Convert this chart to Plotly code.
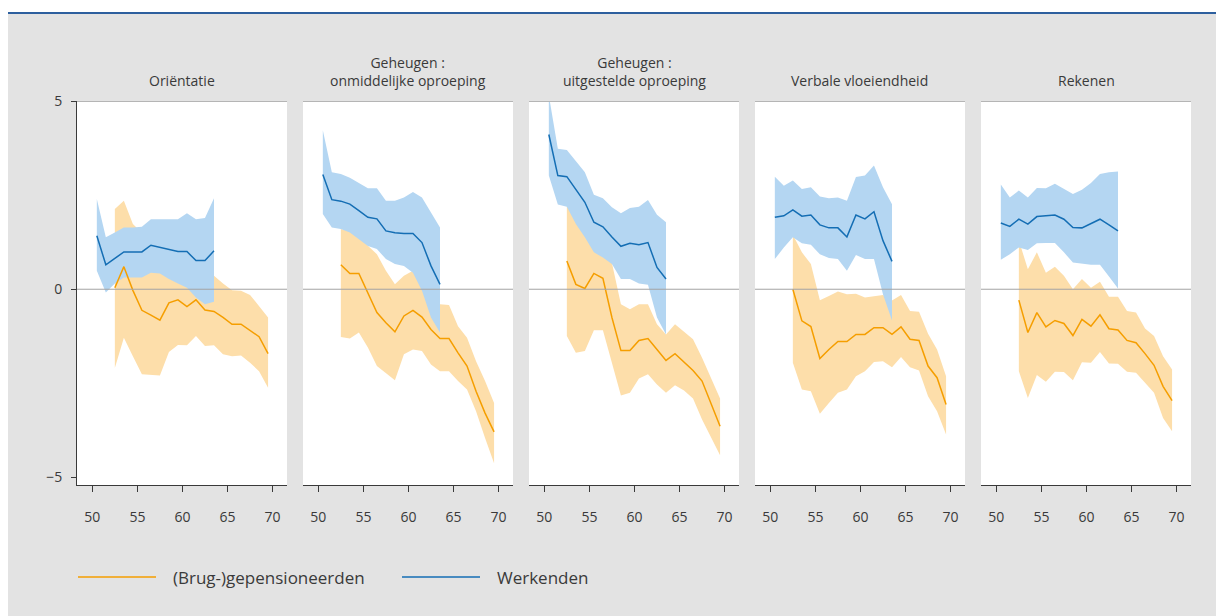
import plotly.graph_objects as go
from plotly.subplots import make_subplots

AGES_WORK = [50.5, 51.5, 52.5, 53.5, 54.5, 55.5, 56.5, 57.5, 58.5, 59.5, 60.5, 61.5, 62.5, 63.5]
AGES_RET = [52.5, 53.5, 54.5, 55.5, 56.5, 57.5, 58.5, 59.5, 60.5, 61.5, 62.5, 63.5, 64.5,
            65.5, 66.5, 67.5, 68.5, 69.5]

TITLES = ["Oriëntatie", "Geheugen :<br>onmiddelijke oproeping", "Geheugen :<br>uitgestelde oproeping",
          "Verbale vloeiendheid", "Rekenen"]
X_TICKS = [50, 55, 60, 65, 70]
Y_TICKS = [-5, 0, 5]
Y_TICKTEXT = ["\u22125", "0", "5"]
LEGEND_NAMES = ["(Brug-)gepensioneerden", "Werkenden"]

# Oriëntatie
ORI_WORK = [1.42, 0.65, 0.82, 0.99, 0.99, 0.99, 1.17, 1.12, 1.06, 1.00, 1.00, 0.76, 0.76, 1.02]
ORI_WORK_HI = [2.40, 1.38, 1.51, 1.64, 1.64, 1.66, 1.86, 1.86, 1.86, 1.86, 2.02, 1.86, 1.89, 2.42]
ORI_WORK_LO = [0.49, -0.09, 0.15, 0.31, 0.31, 0.31, 0.44, 0.42, 0.27, 0.15, 0.04, -0.22, -0.40, -0.33]
ORI_RET = [0.04, 0.60, -0.03, -0.56, -0.69, -0.82, -0.36, -0.28, -0.46, -0.28, -0.55, -0.59, -0.75,
           -0.93, -0.93, -1.09, -1.26, -1.71]
ORI_RET_HI = [2.13, 2.35, 1.73, 1.50, 1.30, 1.20, 1.10, 1.00, 0.90, 0.70, 0.50, 0.36, 0.15,
              -0.03, -0.04, -0.15, -0.44, -0.75]
ORI_RET_LO = [-2.09, -1.29, -1.78, -2.26, -2.28, -2.29, -1.67, -1.48, -1.49, -1.24, -1.51, -1.49, -1.73,
              -1.78, -1.76, -1.95, -2.18, -2.62]

# Geheugen: onmiddelijke oproeping
ONM_WORK = [3.05, 2.38, 2.34, 2.26, 2.09, 1.91, 1.87, 1.55, 1.50, 1.48, 1.48, 1.24, 0.62, 0.13]
ONM_WORK_HI = [4.22, 3.11, 3.06, 2.96, 2.82, 2.68, 2.68, 2.35, 2.35, 2.44, 2.58, 2.44, 2.04, 1.64]
ONM_WORK_LO = [2.00, 1.64, 1.60, 1.51, 1.33, 1.15, 1.07, 0.80, 0.67, 0.62, 0.44, -0.04, -0.75, -1.15]
ONM_RET = [0.65, 0.42, 0.42, -0.09, -0.62, -0.89, -1.13, -0.71, -0.56, -0.74, -1.07, -1.31, -1.31,
           -1.69, -2.04, -2.71, -3.29, -3.79]
ONM_RET_HI = [1.60, 1.55, 1.38, 1.15, 0.93, 0.49, 0.13, 0.36, 0.49, 0.04, -0.20, -0.40, -0.42,
              -0.98, -1.29, -1.91, -2.44, -3.02]
ONM_RET_LO = [-1.27, -1.31, -1.15, -1.55, -2.04, -2.22, -2.42, -1.73, -1.60, -1.64, -2.00, -2.18, -2.18,
              -2.44, -2.66, -3.24, -3.95, -4.62]

# Geheugen: uitgestelde oproeping
UIT_WORK = [4.11, 3.02, 2.99, 2.66, 2.31, 1.78, 1.66, 1.39, 1.14, 1.22, 1.18, 1.24, 0.58, 0.27]
UIT_WORK_HI = [5.15, 3.73, 3.70, 3.42, 3.11, 2.51, 2.42, 2.18, 2.02, 2.16, 2.19, 2.37, 1.98, 1.78]
UIT_WORK_LO = [3.02, 2.25, 2.19, 1.73, 1.38, 0.98, 0.84, 0.67, 0.27, 0.27, 0.15, 0.12, -0.75, -1.20]
UIT_RET = [0.75, 0.13, 0.02, 0.42, 0.29, -0.75, -1.63, -1.63, -1.36, -1.31, -1.60, -1.89, -1.71,
           -1.93, -2.16, -2.44, -3.06, -3.64]
UIT_RET_HI = [2.30, 1.90, 1.50, 1.10, 0.90, 0.70, -0.40, -0.53, -0.40, -0.40, -0.93, -1.20, -0.93,
              -1.13, -1.33, -1.82, -2.37, -2.90]
UIT_RET_LO = [-1.24, -1.69, -1.64, -1.09, -1.09, -1.95, -2.82, -2.75, -2.37, -2.26, -2.53, -2.75, -2.55,
              -2.69, -2.90, -3.46, -3.95, -4.41]

# Verbale vloeiendheid
VER_WORK = [1.91, 1.95, 2.11, 1.94, 1.97, 1.71, 1.63, 1.63, 1.39, 1.97, 1.87, 2.06, 1.29, 0.74]
VER_WORK_HI = [2.99, 2.75, 2.89, 2.66, 2.71, 2.46, 2.42, 2.44, 2.35, 2.98, 3.02, 3.29, 2.71, 2.26]
VER_WORK_LO = [0.80, 1.11, 1.38, 1.22, 1.18, 0.93, 0.83, 0.80, 0.49, 0.91, 0.80, 0.80, -0.13, -0.83]
VER_RET = [0.00, -0.84, -0.99, -1.84, -1.60, -1.39, -1.39, -1.20, -1.20, -1.02, -1.02, -1.20, -1.00,
           -1.33, -1.36, -2.04, -2.35, -3.06]
VER_RET_HI = [1.45, 0.98, 0.67, -0.29, -0.18, -0.06, -0.13, -0.12, -0.22, -0.18, -0.15, -0.30, -0.15,
              -0.58, -0.60, -1.18, -1.60, -2.31]
VER_RET_LO = [-1.95, -2.66, -2.71, -3.31, -3.02, -2.75, -2.66, -2.31, -2.18, -1.93, -1.91, -2.07, -1.80,
              -2.07, -2.16, -2.84, -3.24, -3.86]

# Rekenen
REK_WORK = [1.76, 1.67, 1.86, 1.73, 1.93, 1.95, 1.97, 1.86, 1.64, 1.63, 1.75, 1.86, 1.71, 1.55]
REK_WORK_HI = [2.78, 2.44, 2.62, 2.44, 2.69, 2.68, 2.80, 2.66, 2.53, 2.64, 2.82, 3.06, 3.11, 3.13]
REK_WORK_LO = [0.78, 0.93, 1.11, 1.04, 1.22, 1.23, 1.23, 0.98, 0.71, 0.67, 0.65, 0.65, 0.34, 0.02]
REK_RET = [-0.29, -1.15, -0.62, -1.00, -0.83, -0.91, -1.23, -0.80, -0.98, -0.68, -1.05, -1.08, -1.36,
           -1.42, -1.71, -2.02, -2.58, -2.96]
REK_RET_HI = [1.30, 0.53, 0.98, 0.44, 0.60, 0.36, 0.00, 0.27, 0.04, 0.20, -0.20, -0.20, -0.58,
              -0.62, -1.04, -1.24, -1.78, -2.13]
REK_RET_LO = [-2.18, -2.89, -2.28, -2.46, -2.19, -2.20, -2.42, -1.94, -1.95, -1.67, -1.97, -1.98, -2.19,
              -2.22, -2.49, -2.75, -3.42, -3.77]

PANELS = [
    (ORI_WORK, ORI_WORK_LO, ORI_WORK_HI, ORI_RET, ORI_RET_LO, ORI_RET_HI),
    (ONM_WORK, ONM_WORK_LO, ONM_WORK_HI, ONM_RET, ONM_RET_LO, ONM_RET_HI),
    (UIT_WORK, UIT_WORK_LO, UIT_WORK_HI, UIT_RET, UIT_RET_LO, UIT_RET_HI),
    (VER_WORK, VER_WORK_LO, VER_WORK_HI, VER_RET, VER_RET_LO, VER_RET_HI),
    (REK_WORK, REK_WORK_LO, REK_WORK_HI, REK_RET, REK_RET_LO, REK_RET_HI),
]

ORANGE = "rgb(245,158,0)"
ORANGE_FILL = "rgb(253,222,170)"
BLUE = "rgb(20,110,180)"
BLUE_FILL = "rgb(180,214,242)"
BG = "#e3e3e3"
TEXT = "#3a3a3a"
FONT = "Open Sans"

# plot area is 1114 px wide and 384 px tall; legend placed in those pixel units
PLOT_W, PLOT_H = 1114, 384


def band(x, lo, hi, color):
    return go.Scatter(
        x=list(x) + list(x)[::-1],
        y=list(hi) + list(lo)[::-1],
        fill="toself",
        fillcolor=color,
        mode="lines",
        line={"width": 0},
        hoverinfo="skip",
        showlegend=False,
    )


fig = make_subplots(rows=1, cols=5, horizontal_spacing=16 / PLOT_W)

for col, (work, work_lo, work_hi, ret, ret_lo, ret_hi) in enumerate(PANELS, start=1):
    fig.add_trace(band(AGES_RET, ret_lo, ret_hi, ORANGE_FILL), row=1, col=col)
    fig.add_trace(band(AGES_WORK, work_lo, work_hi, BLUE_FILL), row=1, col=col)
    fig.add_trace(go.Scatter(x=AGES_RET, y=ret, mode="lines", line={"color": ORANGE, "width": 1.5},
                             name=LEGEND_NAMES[0], showlegend=False), row=1, col=col)
    fig.add_trace(go.Scatter(x=AGES_WORK, y=work, mode="lines", line={"color": BLUE, "width": 1.5},
                             name=LEGEND_NAMES[1], showlegend=False), row=1, col=col)

    suffix = "" if col == 1 else str(col)
    for yv, w, c in ((0, 1, "#a3a3a3"), (5, 2, "#b5b5b5")):
        fig.add_shape(type="line", xref=f"x{suffix} domain", yref=f"y{suffix}", x0=0, x1=1, y0=yv, y1=yv,
                      line={"color": c, "width": w}, layer="above")

    fig.add_annotation(text=TITLES[col - 1], xref=f"x{suffix} domain", yref="paper", x=0.5, y=1,
                       yanchor="bottom", yshift=9, showarrow=False,
                       font={"family": FONT, "size": 14, "color": TEXT})

    fig.update_xaxes(row=1, col=col, range=[48.3, 71.6], tickvals=X_TICKS, showgrid=False, zeroline=False,
                     showline=True, linecolor=TEXT, linewidth=1, ticks="outside", ticklen=6,
                     tickcolor=TEXT, ticklabelstandoff=13,
                     tickfont={"family": FONT, "size": 14, "color": TEXT})
    if col == 1:
        fig.update_yaxes(row=1, col=col, range=[-5.2, 5], tickvals=Y_TICKS, ticktext=Y_TICKTEXT,
                         showgrid=False, zeroline=False, showline=True, linecolor=TEXT, linewidth=1,
                         ticks="outside", ticklen=5, tickcolor=TEXT, ticklabelstandoff=6,
                         tickfont={"family": FONT, "size": 14, "color": TEXT})
    else:
        fig.update_yaxes(row=1, col=col, range=[-5.2, 5], showgrid=False, zeroline=False,
                         showline=False, showticklabels=False, ticks="")

# header band and rule
fig.add_shape(type="rect", xref="paper", yref="paper", x0=-0.08, x1=1.05, y0=1.232, y1=1.32,
              fillcolor="white", line={"width": 0}, layer="below")
fig.add_shape(type="line", xref="paper", yref="paper", x0=-0.07, x1=1.05, y0=1.229, y1=1.229,
              line={"color": "#2d5f9e", "width": 2})

# legend (hand drawn: long line samples)
ly = -92 / PLOT_H
for name, color, lx in zip(LEGEND_NAMES, [ORANGE, BLUE], [1, 325]):
    fig.add_shape(type="line", xref="paper", yref="paper", x0=lx / PLOT_W, x1=(lx + 78) / PLOT_W,
                  y0=ly, y1=ly, line={"color": color, "width": 1.5})
    fig.add_annotation(text=name, xref="paper", yref="paper", x=(lx + 93) / PLOT_W, y=ly, xanchor="left",
                       yanchor="middle", showarrow=False,
                       font={"family": FONT, "size": 17, "color": TEXT})

fig.update_layout(
    width=1216,
    height=608,
    margin={"l": 69, "r": 33, "t": 93, "b": 131},
    paper_bgcolor=BG,
    plot_bgcolor="white",
    showlegend=False,
)

fig.write_html("out.html")
